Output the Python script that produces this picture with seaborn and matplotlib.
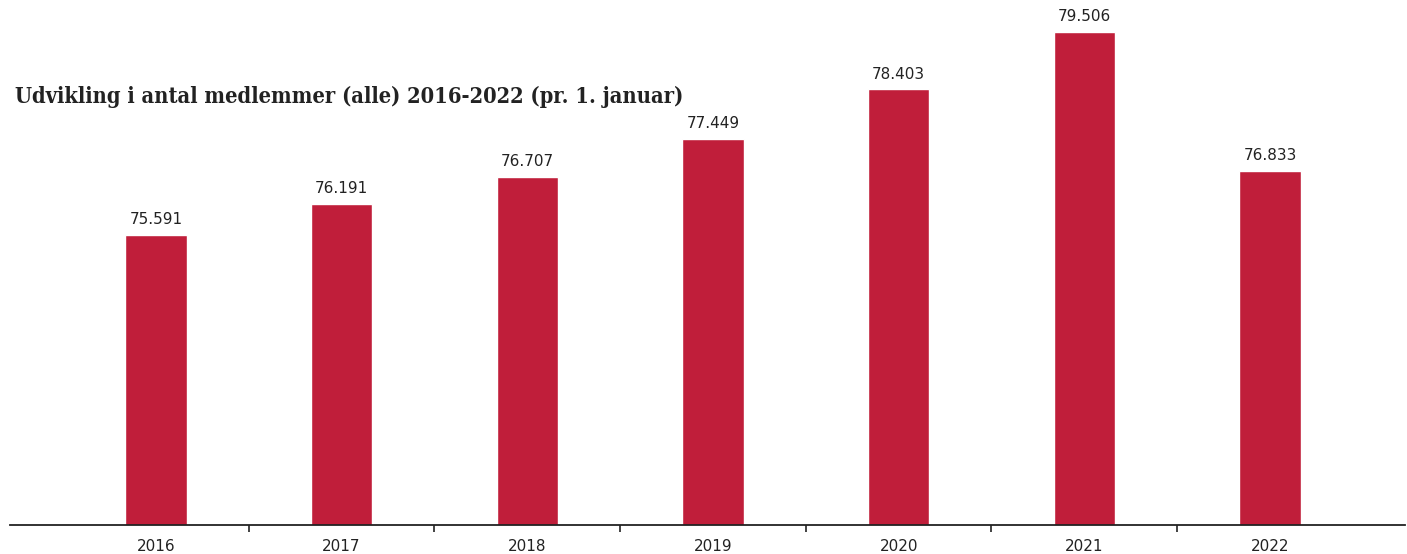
import matplotlib
matplotlib.use("Agg")
import matplotlib.pyplot as plt
import seaborn as sns
import pandas as pd

years = ["2016", "2017", "2018", "2019", "2020", "2021", "2022"]
members = [75591, 76191, 76707, 77449, 78403, 79506, 76833]
labels = ["75.591", "76.191", "76.707", "77.449", "78.403", "79.506", "76.833"]
title = "Udvikling i antal medlemmer (alle) 2016-2022 (pr. 1. januar)"

df = pd.DataFrame({"year": years, "members": members})

sns.set_theme(style="white")
plt.rcParams["font.family"] = ["DejaVu Sans"]

fig = plt.figure(figsize=(14.07, 5.54), dpi=100)
ax = fig.add_axes([10/1407, 29/554, 1395/1407, (525-6.5)/554])

sns.barplot(data=df, x="year", y="members", color="#C01E3A", width=0.33,
            saturation=1, ax=ax)

ax.set_ylim(70000, 80000)
ax.set_xlim(-0.786, 6.727)
for i, (v, lab) in enumerate(zip(members, labels)):
    ax.text(i, v + 150, lab, ha="center", va="bottom", fontsize=11, color="#222222")

for s in ["top", "right", "left"]:
    ax.spines[s].set_visible(False)
ax.spines["bottom"].set_color("#222222")
ax.spines["bottom"].set_linewidth(1.3)
ax.set_yticks([])
ax.set_xlabel("")
ax.set_ylabel("")
ax.tick_params(axis="x", which="major", length=0, labelsize=11, labelcolor="#222222", pad=10)
ax.set_xticks([i + 0.5 for i in range(6)], minor=True)
ax.tick_params(axis="x", which="minor", bottom=True, length=5, width=1.2,
               color="#222222", direction="out")

fig.text(15/1407, 1 - 97/554, title, fontsize=15.7, fontweight="bold",
         family="DejaVu Serif", fontstretch="condensed", color="#222222",
         ha="left", va="center")

fig.savefig("out.png", dpi=100, facecolor="white")
